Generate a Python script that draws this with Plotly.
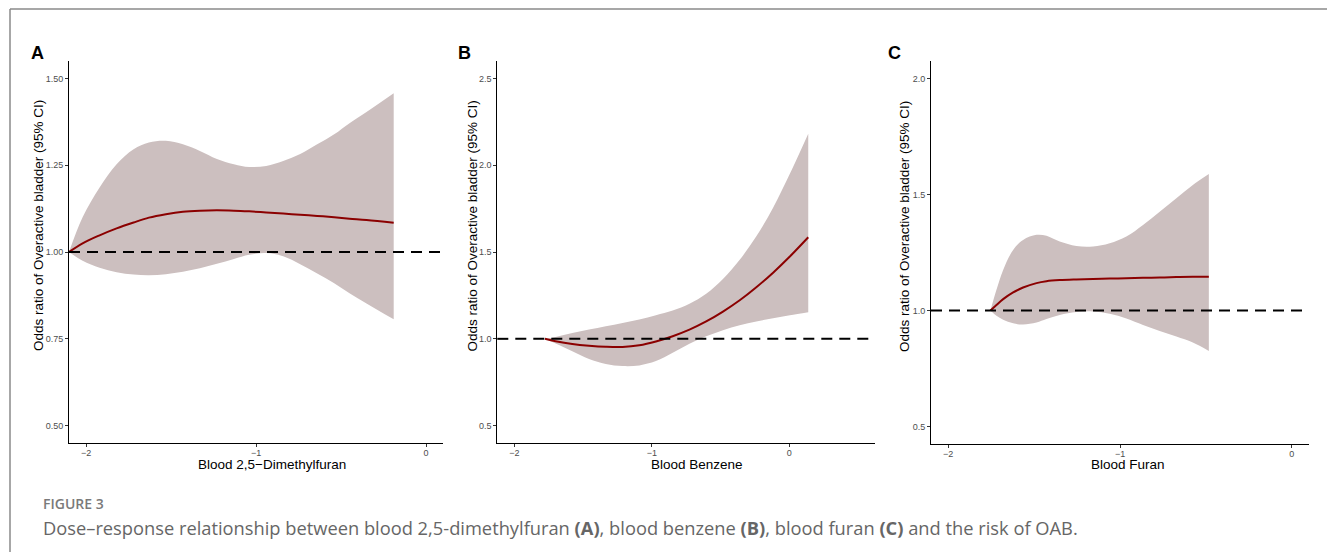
import plotly.graph_objects as go

# ---------------- data ----------------
# Panel A: Blood 2,5-Dimethylfuran
A_x = [-2.10, -2.02, -1.92, -1.82, -1.72, -1.63, -1.53, -1.43, -1.33, -1.23,
       -1.13, -1.04, -0.94, -0.84, -0.74, -0.64, -0.54, -0.45, -0.35, -0.19]
A_fit = [1.000, 1.025, 1.048, 1.068, 1.085, 1.099, 1.109, 1.116, 1.119, 1.120,
         1.119, 1.117, 1.114, 1.111, 1.107, 1.104, 1.100, 1.096, 1.092, 1.084]
A_upper = [1.000, 1.100, 1.186, 1.253, 1.296, 1.315, 1.320, 1.310, 1.291, 1.268,
           1.253, 1.245, 1.248, 1.262, 1.282, 1.310, 1.339, 1.371, 1.403, 1.457]
A_lower = [1.000, 0.975, 0.955, 0.942, 0.935, 0.933, 0.936, 0.943, 0.953, 0.966,
           0.980, 0.992, 0.997, 0.988, 0.965, 0.938, 0.910, 0.881, 0.852, 0.806]

# Panel B: Blood Benzene
B_x = [-1.778, -1.700, -1.579, -1.457, -1.335, -1.213, -1.091, -0.970, -0.848,
       -0.726, -0.604, -0.482, -0.360, -0.239, -0.117, 0.005, 0.139]
B_fit = [1.000, 0.986, 0.970, 0.960, 0.954, 0.953, 0.963, 0.985, 1.015,
         1.053, 1.100, 1.157, 1.222, 1.297, 1.381, 1.474, 1.585]
B_upper = [1.000, 1.011, 1.033, 1.053, 1.072, 1.091, 1.111, 1.136, 1.163,
           1.202, 1.260, 1.345, 1.455, 1.590, 1.755, 1.950, 2.181]
B_lower = [1.000, 0.973, 0.929, 0.884, 0.855, 0.843, 0.847, 0.872, 0.920,
           0.972, 1.015, 1.050, 1.078, 1.100, 1.119, 1.136, 1.153]

# Panel C: Blood Furan
C_x = [-1.754, -1.719, -1.680, -1.622, -1.564, -1.486, -1.428, -1.351, -1.254,
       -1.157, -1.060, -0.963, -0.866, -0.769, -0.672, -0.576, -0.483]
C_fit = [1.000, 1.024, 1.049, 1.078, 1.099, 1.118, 1.126, 1.131, 1.134,
         1.136, 1.138, 1.139, 1.141, 1.142, 1.144, 1.145, 1.146]
C_upper = [1.000, 1.089, 1.175, 1.261, 1.304, 1.326, 1.322, 1.297, 1.278,
           1.276, 1.290, 1.319, 1.369, 1.426, 1.484, 1.541, 1.588]
C_lower = [1.000, 0.977, 0.960, 0.945, 0.940, 0.948, 0.963, 0.981, 0.994,
           0.996, 0.986, 0.966, 0.938, 0.912, 0.888, 0.862, 0.826]

x_titles = ["Blood 2,5\u2212Dimethylfuran", "Blood Benzene", "Blood Furan"]
y_title = "Odds ratio of Overactive bladder (95% CI)"
panel_letters = ["A", "B", "C"]
x_tickvals = [-2, -1, 0]
A_yticks = [0.50, 0.75, 1.00, 1.25, 1.50]
B_yticks = [0.5, 1.0, 1.5, 2.0, 2.5]
C_yticks = [0.5, 1.0, 1.5, 2.0]
ref_value = 1.0
caption_label = "FIGURE 3"
caption_text = ("Dose\u2013response relationship between blood 2,5-dimethylfuran <b>(A)</b>, "
                "blood benzene <b>(B)</b>, blood furan <b>(C)</b> and the risk of OAB.")

# ---------------- layout helpers ----------------
OFF = 8                      # page body margin of the html file
W, H = 1335 - OFF, 555 - OFF
def px(x):
    return (x - OFF) / W
def py(y):
    return 1 - (y - OFF) / H

BAND = "rgb(204,191,191)"
LINE = "#8B0000"
FONT = "Liberation Sans"

panels = [
    dict(x=A_x, fit=A_fit, up=A_upper, lo=A_lower, xr=[-2.1, 0.1], yr=[0.45, 1.55],
         yt=A_yticks, yfmt=".2f", dom=(69, 443), top=61, bot=443,
         ytx=38, xtx=272, ltx=37.5),
    dict(x=B_x, fit=B_fit, up=B_upper, lo=B_lower, xr=[-2.125, 0.625], yr=[0.4, 2.6],
         yt=B_yticks, yfmt=".1f", dom=(497.3, 875), top=61, bot=443,
         ytx=471.5, xtx=697, ltx=464.5),
    dict(x=C_x, fit=C_fit, up=C_upper, lo=C_lower, xr=[-2.1, 0.1], yr=[0.425, 2.075],
         yt=C_yticks, yfmt=".1f", dom=(931, 1309), top=61, bot=444,
         ytx=904, xtx=1128, ltx=894),
]

fig = go.Figure()
annotations = []
shapes = []

for i, p in enumerate(panels):
    n = i + 1
    xa = "x" if n == 1 else f"x{n}"
    ya = "y" if n == 1 else f"y{n}"
    fig.add_trace(go.Scatter(x=p["x"], y=p["lo"], mode="lines",
                             line=dict(width=0, shape="spline", color=BAND),
                             xaxis=xa, yaxis=ya, showlegend=False, hoverinfo="skip"))
    fig.add_trace(go.Scatter(x=p["x"], y=p["up"], mode="lines", fill="tonexty",
                             fillcolor=BAND,
                             line=dict(width=0, shape="spline", color=BAND),
                             xaxis=xa, yaxis=ya, showlegend=False, hoverinfo="skip"))
    fig.add_trace(go.Scatter(x=p["x"], y=p["fit"], mode="lines",
                             line=dict(width=2, shape="spline", color=LINE),
                             xaxis=xa, yaxis=ya, showlegend=False))
    # reference line at OR = 1
    shapes.append(dict(type="line", xref=f"{xa} domain", yref=ya,
                       x0=0, x1=1, y0=ref_value, y1=ref_value,
                       line=dict(color="black", width=2, dash="11px,7px")))

    axis_common = dict(showgrid=False, zeroline=False, showline=True,
                       linecolor="black", linewidth=1, ticks="outside",
                       ticklen=3, tickwidth=1, tickcolor="#333333",
                       tickfont=dict(family=FONT, size=9, color="#4d4d4d"))
    key_x = "xaxis" if n == 1 else f"xaxis{n}"
    key_y = "yaxis" if n == 1 else f"yaxis{n}"
    fig.update_layout(**{
        key_x: dict(axis_common, domain=[px(p["dom"][0]), px(p["dom"][1])],
                    range=p["xr"], tickvals=x_tickvals, anchor=ya,
                    ticklabelstandoff=-2),
        key_y: dict(axis_common, domain=[py(p["bot"]), py(p["top"])],
                    range=p["yr"], tickvals=p["yt"], tickformat=p["yfmt"], anchor=xa),
    })

    annotations.append(dict(text=y_title, xref="paper", yref="paper",
                            x=px(p["ytx"]), y=py(226), textangle=-90,
                            showarrow=False, xanchor="center", yanchor="middle",
                            font=dict(family=FONT, size=13.5, color="black")))
    annotations.append(dict(text=x_titles[i], xref="paper", yref="paper",
                            x=px(p["xtx"]), y=py(464), showarrow=False,
                            xanchor="center", yanchor="middle",
                            font=dict(family=FONT, size=13.5, color="black")))
    annotations.append(dict(text=f"<b>{panel_letters[i]}</b>", xref="paper", yref="paper",
                            x=px(p["ltx"]), y=py(52.5), showarrow=False,
                            xanchor="center", yanchor="middle",
                            font=dict(family=FONT, size=18, color="black")))

annotations.append(dict(text=caption_label, xref="paper", yref="paper",
                        x=px(41), y=py(503), showarrow=False,
                        xanchor="left", yanchor="middle",
                        font=dict(family="Open Sans", size=14, color="#7a7a7a",
                                  weight=600)))
annotations.append(dict(text=caption_text, xref="paper", yref="paper",
                        x=px(41), y=py(527), showarrow=False,
                        xanchor="left", yanchor="middle",
                        font=dict(family="Open Sans", size=18.3, color="#666666")))

# outer frame of the figure
frame = dict(color="#8a8a8a", width=1.5)
shapes += [
    dict(type="line", xref="paper", yref="paper", x0=px(10), x1=px(10), y0=py(9), y1=py(552), line=frame),
    dict(type="line", xref="paper", yref="paper", x0=px(10), x1=px(1332), y0=py(9), y1=py(9), line=frame),
    dict(type="line", xref="paper", yref="paper", x0=px(1332), x1=px(1332), y0=py(9), y1=py(555), line=frame),
]

fig.update_layout(width=W, height=H, margin=dict(l=0, r=0, t=0, b=0),
                  paper_bgcolor="white", plot_bgcolor="white",
                  annotations=annotations, shapes=shapes,
                  font=dict(family=FONT))

fig.write_html("out.html")
